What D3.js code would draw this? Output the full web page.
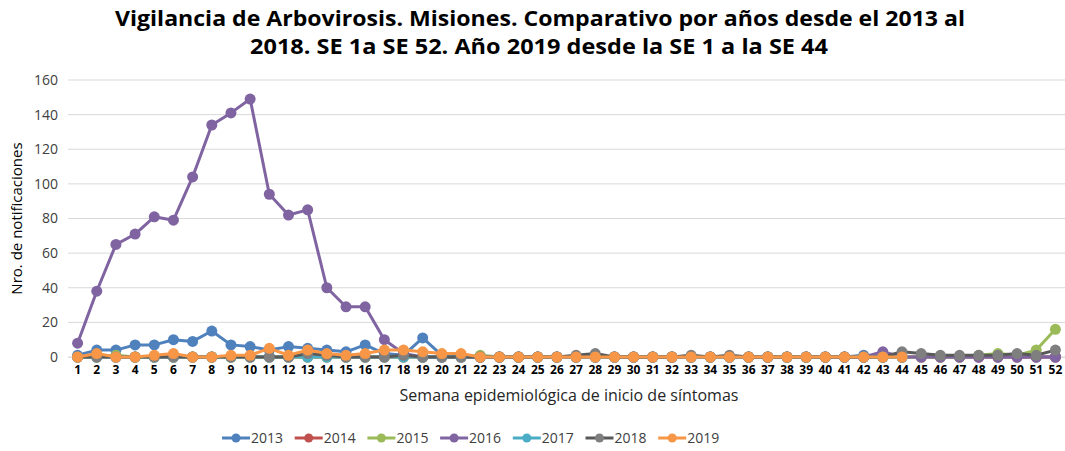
<!DOCTYPE html>
<html>
<head>
<meta charset="utf-8">
<script src="https://cdn.jsdelivr.net/npm/d3@7"></script>
<style>
  body { margin: 0; background: #fff; }
  text { font-family: "Open Sans", "Noto Sans", sans-serif; }
</style>
</head>
<body>
<div id="chart"></div>
<script>
// weeks 1..52
var weeks = d3.range(1, 53);
var yTicks = [0, 20, 40, 60, 80, 100, 120, 140, 160];

var s2013 = [1,4,4,7,7,10,9,15,7,6,4,6,5,4,3,7,2,1,11,1,1,0,0,0,0,0,0,0,0,0,0,0,0,0,0,0,0,0,0,0,0,1,0,0,0,0,0,0,0,0,0,0];
var s2014 = [0,0,0,0,0,0,0,0,0,0,0,0,0,0,0,0,0,0,0,0,0,0,0,0,0,0,0,0,0,0,0,0,0,0,0,0,0,0,0,0,0,0,0,0,0,0,0,0,0,0,0,0];
var s2015 = [0,0,1,0,0,0,0,0,0,0,0,0,0,0,0,0,0,0,0,0,0,1,0,0,0,0,0,0,0,0,0,0,0,0,0,0,0,0,0,0,0,0,0,0,0,0,0,1,2,1,4,16];
var s2016 = [8,38,65,71,81,79,104,134,141,149,94,82,85,40,29,29,10,2,0,0,0,0,0,0,0,0,0,0,0,0,0,0,0,0,0,0,0,0,0,0,0,0,3,0,0,0,0,0,0,0,0,0];
var s2017 = [0,0,0,0,0,0,0,0,0,0,0,0,0,0,0,0,0,0,0,0,0,0,0,0,0,0,0,0,0,0,0,0,0,0,0,0,0,0,0,0,0,0,0,0];
var s2018 = [0,0,0,0,0,0,0,0,0,0,0,0,2,1,0,0,0,1,0,0,0,0,0,0,0,0,1,2,0,0,0,0,1,0,1,0,0,0,0,0,0,0,0,3,2,1,1,1,1,2,1,4];
var s2019 = [0,2,0,0,1,2,0,0,1,1,5,1,4,2,1,2,4,4,3,2,2,0,0,0,0,0,0,0,0,0,0,0,0,0,0,0,0,0,0,0,0,0,0,0];

var series = [
  {name: "2013", values: s2013, color: "#4F81BD"},
  {name: "2014", values: s2014, color: "#C0504D"},
  {name: "2015", values: s2015, color: "#9BBB59"},
  {name: "2016", values: s2016, color: "#8064A2"},
  {name: "2017", values: s2017, color: "#4BACC6"},
  {name: "2018", values: s2018, color: "#7F7F7F", line: "#595959"},
  {name: "2019", values: s2019, color: "#F79646"}
];

var width = 1065, height = 451;
var margin = {left: 68, right: 0, top: 80, bottom: 94};

var svg = d3.select("#chart").append("svg")
  .attr("width", width)
  .attr("height", height);

// title
var title = svg.append("text")
  .attr("text-anchor", "middle")
  .style("font-weight", "bold")
  .style("font-size", "21px")
  .attr("fill", "#000");
title.append("tspan").attr("x", 540).attr("y", 26)
  .attr("textLength", 850).attr("lengthAdjust", "spacingAndGlyphs")
  .text("Vigilancia de Arbovirosis. Misiones. Comparativo por años desde el 2013 al");
title.append("tspan").attr("x", 539).attr("y", 54)
  .attr("textLength", 578).attr("lengthAdjust", "spacingAndGlyphs")
  .text("2018. SE 1a SE 52. Año 2019 desde la SE 1 a la SE 44");

var x = d3.scaleBand()
  .domain(weeks)
  .range([margin.left, width - margin.right]);

var y = d3.scaleLinear()
  .domain([0, 160])
  .range([height - margin.bottom, margin.top]);

// gridlines
svg.append("g")
  .selectAll("line")
  .data(yTicks)
  .join("line")
  .attr("x1", margin.left)
  .attr("x2", width - margin.right)
  .attr("y1", d => y(d))
  .attr("y2", d => y(d))
  .attr("stroke", "#d9d9d9")
  .attr("stroke-width", 1);

// y axis
var yAxis = svg.append("g")
  .attr("transform", "translate(" + (margin.left - 4) + ",0)")
  .call(d3.axisLeft(y).tickValues(yTicks).tickSize(0).tickPadding(6));
yAxis.select(".domain").remove();
yAxis.selectAll("text")
  .style("font-size", "14px")
  .attr("fill", "#404040");

// x axis
var xAxis = svg.append("g")
  .attr("transform", "translate(0," + y(0) + ")")
  .call(d3.axisBottom(x).tickSize(0).tickPadding(8));
xAxis.select(".domain").attr("stroke", "#d9d9d9");
xAxis.selectAll("text")
  .style("font-size", "12px")
  .style("font-weight", "bold")
  .attr("fill", "#000");

// axis titles
svg.append("text")
  .attr("transform", "translate(22," + ((y(0) + y(160)) / 2) + ") rotate(-90)")
  .attr("text-anchor", "middle")
  .style("font-size", "15px")
  .attr("fill", "#000")
  .text("Nro. de notificaciones");

svg.append("text")
  .attr("x", 569)
  .attr("y", 401)
  .attr("text-anchor", "middle")
  .style("font-size", "16px")
  .attr("fill", "#262626")
  .text("Semana epidemiológica de inicio de síntomas");

// lines
var line = d3.line()
  .x((d, i) => x(weeks[i]) + x.bandwidth() / 2)
  .y(d => y(d));

series.forEach(function(s) {
  var g = svg.append("g");
  g.append("path")
    .datum(s.values)
    .attr("fill", "none")
    .attr("stroke", s.line || s.color)
    .attr("stroke-width", 3)
    .attr("stroke-linejoin", "round")
    .attr("d", line);
  g.selectAll("circle")
    .data(s.values)
    .join("circle")
    .attr("cx", (d, i) => x(weeks[i]) + x.bandwidth() / 2)
    .attr("cy", d => y(d))
    .attr("r", 5.5)
    .attr("fill", s.color);
});

// legend
var legend = svg.append("g");
series.forEach(function(s, i) {
  var lx = 222 + i * 72.7;
  var ly = 438;
  legend.append("line")
    .attr("x1", lx).attr("x2", lx + 28)
    .attr("y1", ly).attr("y2", ly)
    .attr("stroke", s.line || s.color)
    .attr("stroke-width", 3);
  legend.append("circle")
    .attr("cx", lx + 14).attr("cy", ly)
    .attr("r", 4.5)
    .attr("fill", s.color);
  legend.append("text")
    .attr("x", lx + 29).attr("y", ly + 5)
    .style("font-size", "14px")
    .attr("fill", "#404040")
    .text(s.name);
});
</script>
</body>
</html>
